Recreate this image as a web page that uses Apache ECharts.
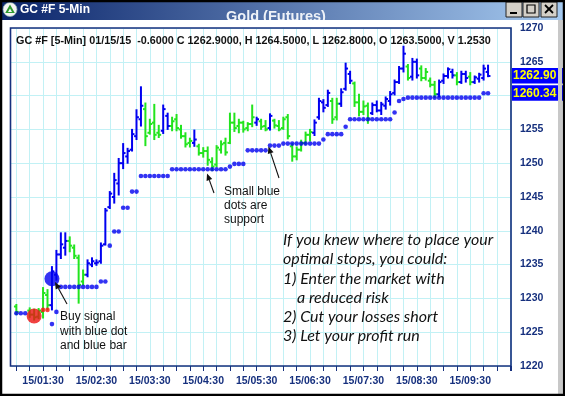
<!DOCTYPE html>
<html><head><meta charset="utf-8">
<script src="https://cdn.jsdelivr.net/npm/echarts@6/dist/echarts.min.js"></script>
<style>html,body{margin:0;padding:0;background:#fff}#c{width:565px;height:396px}</style>
</head><body><div id="c"></div>
<script>
// ---- data (bar index 0 = 15/01:00, one bar per 5 minutes) ----
const tickLabels = ['15/01:30','15/02:30','15/03:30','15/04:30','15/05:30','15/06:30','15/07:30','15/08:30','15/09:30'];
const opens = [1228.8,null,null,1228.2,1227.6,1227.3,1228.0,1230.5,1229.0,1233.5,
 1236.5,1237.5,1238.5,1237.5,1236.0,1232.5,1233.5,1235.0,1235.2,1235.5,
 1238.0,1243.5,1245.0,1247.0,1250.0,1251.0,1252.0,1254.0,1256.5,1258.0,
 1254.5,1256.0,1254.5,1254.8,1257.0,1255.5,1256.5,1255.0,1254.0,1253.0,
 1253.0,1252.5,1251.5,1251.8,1250.2,1249.8,1252.0,1253.0,1253.0,1256.0,
 1255.5,1256.0,1255.2,1255.8,1256.0,1256.2,1255.5,1255.2,1256.3,1255.5,
 1255.2,1256.8,1252.5,1251.0,1252.0,1253.0,1254.2,1254.5,1256.8,1259.0,
 1258.6,1259.2,1256.8,1258.8,1261.0,1263.2,1261.8,1259.0,1257.6,1258.5,
 1257.4,1258.6,1257.8,1258.5,1259.2,1260.4,1262.0,1264.0,1264.3,1262.8,
 1265.0,1264.0,1262.6,1262.2,1261.6,1260.2,1262.2,1262.9,1263.5,1263.0,
 1262.0,1263.2,1262.8,1262.0,1262.5,1262.6,1263.5];
const highs = [1229.1,null,null,1228.6,1228.4,1228.5,1231.6,1231.3,1234.7,1237.1,
 1239.7,1239.7,1239.1,1237.9,1236.4,1234.2,1235.7,1236.0,1235.7,1238.2,
 1243.3,1245.8,1248.5,1250.7,1252.9,1252.2,1255.0,1257.9,1261.3,1258.9,
 1256.5,1258.7,1255.6,1258.6,1257.4,1256.8,1257.2,1255.6,1254.5,1253.7,
 1254.9,1252.8,1252.3,1252.4,1250.8,1252.6,1253.3,1253.7,1257.4,1257.4,
 1256.5,1256.2,1256.0,1258.6,1256.8,1256.5,1256.3,1257.3,1256.5,1256.3,
 1256.8,1257.2,1252.9,1252.4,1253.4,1254.6,1255.0,1256.4,1259.6,1259.4,
 1260.8,1259.6,1259.6,1261.0,1264.8,1263.6,1262.0,1260.2,1259.2,1258.9,
 1258.9,1259.2,1259.0,1259.8,1260.6,1262.3,1264.3,1267.3,1264.6,1265.5,
 1265.4,1264.4,1264.0,1262.6,1262.1,1262.3,1263.2,1264.1,1263.9,1263.4,
 1263.6,1263.6,1263.4,1262.9,1263.3,1264.5,1264.5];
const lows = [1227.6,null,null,1227.2,1226.8,1227.0,1227.1,1228.3,1228.3,1232.7,
 1235.9,1236.4,1236.9,1235.9,1229.3,1232.0,1233.2,1234.7,1234.9,1235.2,
 1237.9,1243.3,1244.1,1245.3,1249.2,1250.0,1251.8,1253.5,1255.5,1252.6,
 1254.3,1253.5,1253.8,1254.4,1255.0,1254.8,1254.8,1253.7,1252.4,1252.4,
 1252.5,1251.2,1250.9,1249.7,1248.9,1249.5,1251.5,1251.2,1252.9,1254.7,
 1254.5,1254.6,1254.8,1255.4,1255.6,1255.0,1254.8,1254.9,1255.2,1254.8,
 1255.0,1253.6,1250.3,1250.5,1251.8,1252.8,1253.3,1254.1,1256.5,1257.6,
 1258.4,1255.9,1256.4,1258.4,1260.8,1261.8,1258.4,1257.0,1257.2,1255.9,
 1257.2,1257.6,1257.2,1258.0,1258.6,1260.1,1261.8,1263.5,1262.3,1262.3,
 1262.6,1262.2,1262.3,1261.3,1259.7,1259.8,1261.8,1262.6,1262.6,1261.6,
 1261.8,1262.0,1261.6,1261.8,1262.0,1262.3,1262.8];
const closes = [1228.0,null,null,1227.6,1227.2,1228.2,1230.8,1229.0,1234.0,1236.5,
 1238.0,1238.5,1237.8,1236.3,1232.0,1233.5,1235.2,1235.5,1235.3,1237.8,
 1243.0,1245.5,1247.5,1250.0,1251.5,1251.8,1254.3,1256.8,1258.5,1254.0,
 1255.8,1254.2,1254.2,1258.0,1255.5,1256.2,1255.2,1254.0,1252.8,1253.3,
 1253.5,1251.5,1251.8,1250.5,1249.5,1252.3,1252.8,1251.6,1256.0,1255.2,
 1256.0,1255.0,1255.8,1256.8,1256.5,1255.4,1255.0,1257.0,1255.6,1255.0,
 1256.5,1254.0,1251.0,1252.0,1253.0,1254.2,1254.6,1256.0,1259.2,1258.2,
 1260.4,1256.5,1258.8,1260.5,1264.0,1262.2,1259.0,1257.6,1258.4,1256.6,
 1258.6,1257.8,1258.7,1259.5,1260.2,1262.0,1264.0,1266.2,1262.6,1265.0,
 1263.0,1262.6,1263.5,1261.6,1260.2,1262.0,1262.9,1263.9,1263.0,1262.0,
 1263.2,1262.6,1262.0,1262.7,1263.1,1264.0,1262.9];
// 1 = blue (trend) bar, 0 = green bar
const trend = [0,0,0,0,0,0,0,0,1,1,
 1,1,0,0,0,0,1,1,1,1,
 1,1,1,1,1,1,1,1,1,0,
 0,0,0,1,1,0,0,0,0,0,
 1,0,0,0,0,0,0,0,0,0,
 0,0,0,0,1,0,0,1,0,0,
 0,0,0,0,0,0,0,1,1,1,
 1,0,0,1,1,1,0,0,0,0,
 1,1,1,1,1,1,1,1,0,1,
 1,0,0,0,0,1,1,1,1,0,
 1,1,0,1,1,1,1];
// small blue support dots
const stops = [1227.8,1227.8,1227.8,null,null,null,null,null,1226.2,1228.0,
 1231.7,1231.7,1231.7,1231.7,1231.7,1231.7,1231.7,1231.7,1231.7,1232.5,
 1232.5,1237.8,1239.9,1239.9,1243.4,1243.4,1245.8,1245.8,1248.1,1248.1,
 1248.1,1248.1,1248.1,1248.1,1248.1,1249.1,1249.1,1249.1,1249.1,1249.1,
 1249.1,1249.1,1249.1,1249.1,1249.1,1249.1,1249.1,1249.1,1249.5,1249.9,
 1249.9,1249.9,1251.9,1251.9,1251.9,1251.9,1251.9,1252.6,1252.6,1252.6,
 1252.9,1252.9,1252.9,1252.9,1252.9,1252.9,1252.9,1252.9,1252.9,1253.5,
 1254.3,1254.3,1254.3,1254.3,1255.4,1256.5,1256.5,1256.5,1256.5,1256.5,
 1256.5,1256.5,1256.5,1256.5,1256.5,1257.5,1259.2,1259.5,1259.7,1259.7,
 1259.7,1259.7,1259.7,1259.7,1259.7,1259.7,1259.7,1259.7,1259.7,1259.7,
 1259.7,1259.7,1259.7,1259.7,1259.7,1260.34,1260.34];
const redIdx = [6, 7];
const redVals = [1228.3, 1228.3];
const sellSignal = [4, 1227.4];
const buySignal = [8, 1232.9];
const lastClose = 1262.90, lastStop = 1260.34;

// ---- build ----
const BLUE = '#0000f0', GREEN = '#22e41e', NAVY = '#16307e', GRIDC = '#c2f1f5';
const ohlc = [];
const dots = [];
for (let i = 0; i < highs.length; i++) {
  if (highs[i] != null) ohlc.push([i, opens[i], highs[i], lows[i], closes[i], trend[i]]);
  if (stops[i] != null) dots.push([i, stops[i]]);
}
const reds = redIdx.map((i, k) => [i, redVals[k]]);

function arrow(x1, y1, x2, y2) {
  const dx = x2 - x1, dy = y2 - y1, L = Math.hypot(dx, dy), ux = dx / L, uy = dy / L;
  const hl = 7, hw = 3;
  const bx = x2 - ux * hl, by = y2 - uy * hl;
  return [
    {type: 'line', z: 60, shape: {x1, y1, x2: bx, y2: by}, style: {stroke: '#111', lineWidth: 1.1}},
    {type: 'polygon', z: 60, shape: {points: [[x2, y2], [bx - uy * hw, by + ux * hw], [bx + uy * hw, by - ux * hw]]}, style: {fill: '#111'}}
  ];
}
function txt(x, y, s, font, fill, extra) {
  return Object.assign({type: 'text', z: 60, x, y, style: {text: s, font, fill, textVerticalAlign: 'middle'}}, extra || {});
}

const chart = echarts.init(document.getElementById('c'), null, {renderer: 'canvas'});
const opt = {
  animation: false,
  backgroundColor: '#fff',
  grid: {left: -1.57, right: 54, top: 28, bottom: 30},
  xAxis: {
    type: 'value', min: -3, max: 111.16, interval: 3,
    axisLine: {show: false},
    axisTick: {show: true, length: 5, lineStyle: {color: NAVY, width: 1}},
    axisLabel: {
      margin: 10, color: NAVY, fontFamily: 'Liberation Sans, Arial', fontWeight: 'bold', fontSize: 10.5,
      showMinLabel: true, showMaxLabel: true,
      formatter: v => { const k = (Math.round(v) - 6) / 12; return (Math.abs(v - Math.round(v)) < 1e-6 && Number.isInteger(k) && k >= 0 && k < tickLabels.length) ? tickLabels[k] : ''; }
    },
    splitLine: {show: true, lineStyle: {color: GRIDC, width: 1}}
  },
  yAxis: {
    type: 'value', position: 'right', min: 1220, max: 1270, interval: 5,
    axisLine: {show: false}, axisTick: {show: false},
    axisLabel: {margin: 9, color: NAVY, fontFamily: 'Liberation Sans, Arial', fontWeight: 'bold', fontSize: 10.5,
      formatter: v => String(v)},
    splitLine: {show: true, lineStyle: {color: GRIDC, width: 1}}
  },
  series: [
    {
      type: 'custom', z: 2, data: ohlc, encode: {x: 0, y: [1, 2, 3, 4]},
      renderItem: (params, api) => {
        const x = api.value(0);
        const pH = api.coord([x, api.value(2)]), pL = api.coord([x, api.value(3)]);
        const pO = api.coord([x, api.value(1)]), pC = api.coord([x, api.value(4)]);
        const col = api.value(5) ? BLUE : GREEN;
        const st = {stroke: col, lineWidth: 2};
        const t = 2.4;
        return {type: 'group', children: [
          {type: 'line', shape: {x1: pH[0], y1: pH[1] - 0.5, x2: pL[0], y2: pL[1] + 0.5}, style: st},
          {type: 'line', shape: {x1: pO[0] - t, y1: pO[1], x2: pO[0], y2: pO[1]}, style: st},
          {type: 'line', shape: {x1: pC[0], y1: pC[1], x2: pC[0] + t, y2: pC[1]}, style: st}
        ]};
      }
    },
    {type: 'scatter', z: 3, data: dots, symbol: 'circle', symbolSize: 4.6, itemStyle: {color: BLUE}},
    {type: 'scatter', z: 3, data: reds, symbol: 'circle', symbolSize: 4.6, itemStyle: {color: '#ff1010'}},
    {type: 'scatter', z: 4, data: [sellSignal], symbol: 'circle', symbolSize: 15, itemStyle: {color: '#ee1111'}},
    {type: 'scatter', z: 4, data: [buySignal], symbol: 'circle', symbolSize: 15, itemStyle: {color: BLUE}}
  ]
};
chart.setOption(opt);

const yClose = chart.convertToPixel({yAxisIndex: 0}, lastClose);
const yStop = chart.convertToPixel({yAxisIndex: 0}, lastStop);

const g = [
  // left cover and plot frame
  {type: 'rect', z: 50, shape: {x: 2, y: 20, width: 8.6, height: 370}, style: {fill: '#fff'}},
  {type: 'rect', z: 51, shape: {x: 10.5, y: 28, width: 500.5, height: 338}, style: {fill: 'none', stroke: NAVY, lineWidth: 1.6}},
  // title bar
  {type: 'rect', z: 52, shape: {x: 0, y: 0, width: 565, height: 20},
   style: {fill: new echarts.graphic.LinearGradient(0, 0, 1, 0, [{offset: 0, color: '#0a246a'}, {offset: 1, color: '#a6caf0'}])}},
  {type: 'circle', z: 53, shape: {cx: 10, cy: 9.5, r: 7}, style: {fill: '#f4f4f4', stroke: '#8aa', lineWidth: 0.8}},
  {type: 'polygon', z: 54, shape: {points: [[10, 4.5], [14.8, 13], [5.2, 13]]}, style: {fill: '#2f9a2f'}},
  {type: 'polygon', z: 55, shape: {points: [[10, 8.5], [12, 12], [8, 12]]}, style: {fill: '#f4f4f4'}},
  txt(20, 10, 'GC #F 5-Min', 'bold 12px "Liberation Sans", Arial', '#fff'),
  {type: 'text', z: 53, x: 276, y: 24, style: {text: 'Gold (Futures)', font: 'bold 14.5px "Liberation Sans", Arial', fill: '#eef2f8', textAlign: 'center', textVerticalAlign: 'bottom'}},
  {type: 'rect', z: 53.5, shape: {x: 200, y: 20, width: 160, height: 7}, style: {fill: '#fff'}},
  // window buttons
  {type: 'rect', z: 53, shape: {x: 506, y: 2, width: 16, height: 15}, style: {fill: '#d4d0c8', stroke: '#222', lineWidth: 1}},
  {type: 'rect', z: 53, shape: {x: 523, y: 2, width: 16, height: 15}, style: {fill: '#d4d0c8', stroke: '#222', lineWidth: 1}},
  {type: 'rect', z: 53, shape: {x: 541, y: 2, width: 16, height: 15}, style: {fill: '#d4d0c8', stroke: '#222', lineWidth: 1}},
  {type: 'rect', z: 54, shape: {x: 510, y: 12, width: 7, height: 2}, style: {fill: '#000'}},
  {type: 'rect', z: 54, shape: {x: 527, y: 5, width: 8, height: 8}, style: {fill: 'none', stroke: '#000', lineWidth: 1.2}},
  {type: 'line', z: 54, shape: {x1: 545, y1: 5, x2: 553, y2: 13}, style: {stroke: '#000', lineWidth: 1.8}},
  {type: 'line', z: 54, shape: {x1: 553, y1: 5, x2: 545, y2: 13}, style: {stroke: '#000', lineWidth: 1.8}},
  // info line
  txt(16, 41, 'GC #F [5-Min] 01/15/15  -0.6000 C 1262.9000, H 1264.5000, L 1262.8000, O 1263.5000, V 1.2530', 'bold 10.8px "Liberation Sans", Arial', '#111'),
  // last value boxes
  {type: 'rect', z: 55, shape: {x: 512, y: yClose - 8, width: 53, height: 15.5}, style: {fill: '#0000ff'}},
  {type: 'rect', z: 55, shape: {x: 512, y: yStop - 8, width: 53, height: 15.5}, style: {fill: '#0000ff'}},
  txt(513, yClose, lastClose.toFixed(2), 'bold 12px "Liberation Sans", Arial', '#ffff00', {z: 56}),
  txt(513, yStop, lastStop.toFixed(2), 'bold 12px "Liberation Sans", Arial', '#ffff00', {z: 56}),
  // right strip & window border
  {type: 'rect', z: 57, shape: {x: 558, y: 20, width: 4, height: 374}, style: {fill: '#c8c8c8'}},
  {type: 'rect', z: 58, shape: {x: 1, y: 1, width: 563, height: 394}, style: {fill: 'none', stroke: '#000', lineWidth: 2.5}},
  // annotations
  txt(60, 317, 'Buy signal', '12px "Liberation Sans", Arial', '#111'),
  txt(60, 331.5, 'with blue dot', '12px "Liberation Sans", Arial', '#111'),
  txt(60, 346, 'and blue bar', '12px "Liberation Sans", Arial', '#111'),
  txt(224, 192, 'Small blue', '12px "Liberation Sans", Arial', '#111'),
  txt(224, 206, 'dots are', '12px "Liberation Sans", Arial', '#111'),
  txt(224, 220, 'support', '12px "Liberation Sans", Arial', '#111'),
  txt(283, 240, 'If you knew where to place your', 'italic 16px Lato', '#111'),
  txt(283, 259.3, 'optimal stops, you could:', 'italic 16px Lato', '#111'),
  txt(283, 278.5, '1) Enter the market with', 'italic 16px Lato', '#111'),
  txt(297, 297.7, 'a reduced risk', 'italic 16px Lato', '#111'),
  txt(283, 317, '2) Cut your losses short', 'italic 16px Lato', '#111'),
  txt(283, 336, '3) Let your profit run', 'italic 16px Lato', '#111')
].concat(arrow(67, 304, 55, 282), arrow(214, 193, 207, 173.5), arrow(279, 178, 268.5, 146.5));

chart.setOption({graphic: {elements: g}});
</script></body></html>
